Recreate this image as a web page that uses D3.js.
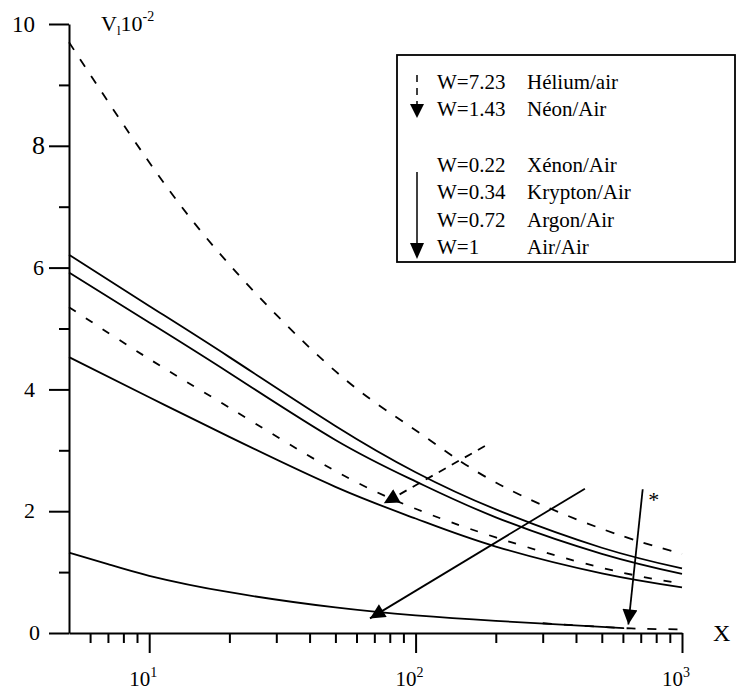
<!DOCTYPE html>
<html>
<head>
<meta charset="utf-8">
<script src="https://cdn.jsdelivr.net/npm/d3@7"></script>
<style>
  html, body { margin: 0; padding: 0; background: #fff; }
  svg { display: block; }
  svg text { font-family: Liberation Serif, Times New Roman, DejaVu Serif, serif; }
</style>
</head>
<body>
<svg id="chart" width="739" height="691"></svg>
<script>
// Abscissa samples (log axis) shared by the upper curves
const xs = [5, 10, 20, 50, 100, 200, 500, 1000];

// V1 * 10^-2 for each mixture
const helium  = [9.70, 7.73, 6.05, 4.30, 3.33, 2.47, 1.71, 1.30];   // W=7.23
const neon    = [5.35, 4.50, 3.70, 2.66, 2.04, 1.57, 1.07, 0.81];   // W=1.43
const xenon   = [6.21, 5.37, 4.53, 3.40, 2.64, 2.03, 1.40, 1.06];   // W=0.22
const krypton = [5.92, 5.10, 4.27, 3.17, 2.49, 1.90, 1.30, 0.97];   // W=0.34
const argon   = [4.53, 3.87, 3.22, 2.40, 1.88, 1.42, 0.98, 0.75];   // W=0.72
const airXs   = [5, 7, 10, 20, 50, 100, 200, 500, 600];
const air     = [1.32, 1.13, 0.94, 0.67, 0.42, 0.29, 0.20, 0.10, 0.08]; // W=1
const tailXs  = [300, 500, 700, 1000];
const tail    = [0.16, 0.10, 0.07, 0.06];

// Axis ticks
const yMajor = [0, 2, 4, 6, 8, 10];
const yMinor = [1, 3, 5, 7, 9];
const xMajor = [10, 100, 1000];
const xMinor = [6, 7, 8, 9, 20, 30, 40, 50, 60, 70, 80, 90, 200, 300, 400, 500, 600, 700, 800, 900];
const xExp   = ["1", "2", "3"];

// Legend rows
const legendTop    = [["W=7.23", "Hélium/air"], ["W=1.43", "Néon/Air"]];
const legendBottom = [["W=0.22", "Xénon/Air"], ["W=0.34", "Krypton/Air"], ["W=0.72", "Argon/Air"], ["W=1", "Air/Air"]];

// Annotation arrows in data units: [x0, v0, x1, v1]
const arrowDashed = [182, 3.07, 76, 2.13];
const arrowLong   = [432, 2.37, 67.4, 0.24];
const arrowStar   = [712, 2.36, 629, 0.14];

const svg = d3.select("#chart");
const x = d3.scaleLog().domain([5, 1000]).range([69, 682]);
const y = d3.scaleLinear().domain([0, 10]).range([633, 24]);

const line = d3.line().x(d => x(d[0])).y(d => y(d[1])).curve(d3.curveNatural);
const pairs = (a, b) => a.map((v, i) => [v, b[i]]);

// Curves
const curves = [
  { d: pairs(xs, helium),  dash: "9,11" },
  { d: pairs(xs, neon),    dash: "8,12" },
  { d: pairs(xs, xenon),   dash: null },
  { d: pairs(xs, krypton), dash: null },
  { d: pairs(xs, argon),   dash: null },
  { d: pairs(airXs, air),  dash: null },
  { d: pairs(tailXs, tail), dash: "9,12" }
];
svg.append("g").selectAll("path").data(curves).join("path")
  .attr("d", c => line(c.d))
  .attr("fill", "none")
  .attr("stroke", "#000")
  .attr("stroke-width", 1.8)
  .attr("stroke-dasharray", c => c.dash);

// Axes
const gx = svg.append("g").attr("transform", `translate(0,${y(0)})`);
gx.call(d3.axisBottom(x).tickValues(xMajor).tickSize(20).tickSizeOuter(0).tickFormat(""));
gx.append("g").call(d3.axisBottom(x).tickValues(xMinor).tickSize(10).tickFormat(""))
  .select(".domain").remove();
gx.selectAll("path, line").attr("stroke", "#000").attr("stroke-width", 2);

const gy = svg.append("g").attr("transform", `translate(${x(5)},0)`);
gy.call(d3.axisLeft(y).tickValues(yMajor).tickSize(20).tickSizeOuter(0).tickFormat(""));
gy.append("g").call(d3.axisLeft(y).tickValues(yMinor).tickSize(10).tickFormat(""))
  .select(".domain").remove();
gy.selectAll("path, line").attr("stroke", "#000").attr("stroke-width", 2);

// X tick labels 10^n
const xl = svg.append("g").selectAll("text").data(xMajor).join("text")
  .attr("x", d => x(d) - 6)
  .attr("y", y(0) + 53)
  .attr("text-anchor", "middle")
  .attr("font-size", 21);
xl.append("tspan").text("10");
xl.append("tspan").attr("dy", -9).attr("font-size", 14).text((d, i) => xExp[i]);

// Y tick labels
const yLabelRight = { 0: 40, 2: 35, 4: 35, 6: 44, 8: 45, 10: 35 };
const yLabelSize  = { 0: 22, 2: 22, 4: 22, 6: 22, 8: 26, 10: 23 };
svg.append("g").selectAll("text").data(yMajor).join("text")
  .attr("x", d => yLabelRight[d])
  .attr("y", d => y(d) + yLabelSize[d] * 0.33)
  .attr("text-anchor", "end")
  .attr("font-size", d => yLabelSize[d])
  .text(d => d);

// Axis titles
const yt = svg.append("text").attr("x", 101).attr("y", 31).attr("font-size", 22);
yt.append("tspan").text("V");
yt.append("tspan").attr("font-size", 13).attr("dy", 4).text("l");
yt.append("tspan").attr("dy", -4).text("10");
yt.append("tspan").attr("font-size", 14).attr("dy", -10).text("-2");
svg.append("text").attr("x", 713).attr("y", y(0) + 8).attr("font-size", 24).text("X");

// Arrowhead marker
const defs = svg.append("defs");
defs.append("marker").attr("id", "head")
  .attr("viewBox", "0 0 10 10").attr("refX", 10).attr("refY", 5)
  .attr("markerUnits", "userSpaceOnUse")
  .attr("markerWidth", 16).attr("markerHeight", 15)
  .attr("orient", "auto")
  .append("path").attr("d", "M0,0 L10,5 L0,10 Z").attr("fill", "#000");

const arrows = [
  { a: arrowDashed, dash: "8,7" },
  { a: arrowLong, dash: null },
  { a: arrowStar, dash: null }
];
svg.append("g").selectAll("line").data(arrows).join("line")
  .attr("x1", d => x(d.a[0])).attr("y1", d => y(d.a[1]))
  .attr("x2", d => x(d.a[2])).attr("y2", d => y(d.a[3]))
  .attr("stroke", "#000").attr("stroke-width", 1.8)
  .attr("stroke-dasharray", d => d.dash)
  .attr("marker-end", "url(#head)");
svg.append("text")
  .attr("x", x(arrowStar[0]) + 11).attr("y", y(arrowStar[1]) + 18)
  .attr("text-anchor", "middle").attr("font-size", 22).text("*");

// Legend
const lg = svg.append("g").attr("font-size", 21);
lg.append("rect").attr("x", 397).attr("y", 55).attr("width", 338).attr("height", 207)
  .attr("fill", "#fff").attr("stroke", "#000").attr("stroke-width", 1.8);
const rowH = 27.3;
lg.selectAll("text.w1").data(legendTop).join("text")
  .attr("x", 437).attr("y", (d, i) => 89 + i * rowH).text(d => d[0]);
lg.selectAll("text.n1").data(legendTop).join("text")
  .attr("x", 527).attr("y", (d, i) => 89 + i * rowH).text(d => d[1]);
lg.selectAll("text.w2").data(legendBottom).join("text")
  .attr("x", 437).attr("y", (d, i) => 172 + i * rowH).text(d => d[0]);
lg.selectAll("text.n2").data(legendBottom).join("text")
  .attr("x", 527).attr("y", (d, i) => 172 + i * rowH).text(d => d[1]);
lg.append("line").attr("x1", 417).attr("x2", 417).attr("y1", 75).attr("y2", 104)
  .attr("stroke", "#000").attr("stroke-width", 1.5).attr("stroke-dasharray", "7,6");
lg.append("path").attr("d", "M410,104 L424,104 L417,118 Z").attr("fill", "#000");
lg.append("line").attr("x1", 417).attr("x2", 417).attr("y1", 172).attr("y2", 244)
  .attr("stroke", "#000").attr("stroke-width", 1.5);
lg.append("path").attr("d", "M410,243 L424,243 L417,259 Z").attr("fill", "#000");
</script>
</body>
</html>
